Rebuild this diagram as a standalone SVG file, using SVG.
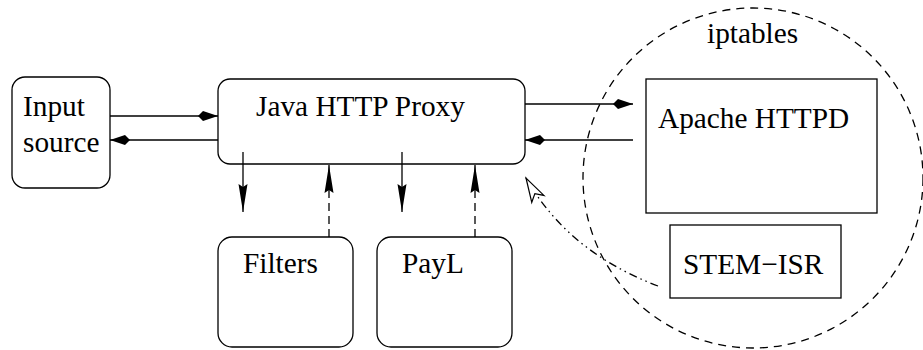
<svg xmlns="http://www.w3.org/2000/svg" width="923" height="350" viewBox="0 0 923 350">
<style>
.box{fill:#fff;stroke:#000;stroke-width:1.3}
.t{font-family:"Liberation Serif","Times New Roman",serif;font-size:29.3px;fill:#000}
.ln{stroke:#000;stroke-width:1.3;fill:none}
.dash{stroke-dasharray:8 5}
</style>
<defs>
<marker id="dia" viewBox="-22 -6 24 12" refX="0" refY="0" markerWidth="24" markerHeight="12" markerUnits="userSpaceOnUse" orient="auto">
<path d="M0,0 L-15,-5 L-20,0 L-15,5 Z" fill="#000"/>
</marker>
<marker id="arr" viewBox="-30 -6 32 12" refX="0" refY="0" markerWidth="32" markerHeight="12" markerUnits="userSpaceOnUse" orient="auto">
<path d="M0,0 L-28,-4.5 L-25,0 L-28,4.5 Z" fill="#000"/>
</marker>
<marker id="open" viewBox="-28 -9 30 18" refX="0" refY="0" markerWidth="30" markerHeight="18" markerUnits="userSpaceOnUse" orient="auto">
<path d="M0,0 L-24,-7 L-18,0 L-24,7 Z" fill="#fff" stroke="#000" stroke-width="1.2"/>
</marker>
</defs>

<g id="iptables">
<circle cx="753" cy="178" r="170" class="ln" stroke-dasharray="8 6" stroke-width="1.1"/>
<text class="t" x="707" y="43">iptables</text>
</g>

<g id="input-source">
<rect class="box" x="12" y="77" width="98" height="111" rx="13"/>
<text class="t" x="23" y="116">Input</text>
<text class="t" x="23" y="152">source</text>
</g>

<g id="java-proxy">
<rect class="box" x="218" y="79" width="307" height="85" rx="12"/>
<text class="t" x="256" y="116">Java HTTP Proxy</text>
</g>

<g id="filters">
<rect class="box" x="218" y="237" width="135" height="110" rx="14"/>
<text class="t" x="243" y="273">Filters</text>
</g>

<g id="payl">
<rect class="box" x="377" y="237" width="135" height="110" rx="14"/>
<text class="t" x="402" y="273">PayL</text>
</g>

<g id="apache">
<rect class="box" x="646" y="79" width="231" height="134"/>
<text class="t" x="658" y="128">Apache HTTPD</text>
</g>

<g id="stem-isr">
<rect class="box" x="670" y="225" width="171" height="73"/>
<text class="t" x="683" y="274">STEM−ISR</text>
</g>

<g id="connectors">
<line class="ln" x1="110" y1="116" x2="218" y2="116" marker-end="url(#dia)"/>
<line class="ln" x1="218" y1="140" x2="110" y2="140" marker-end="url(#dia)"/>
<line class="ln" x1="525" y1="104" x2="633" y2="104" marker-end="url(#dia)"/>
<line class="ln" x1="633" y1="140" x2="525" y2="140" marker-end="url(#dia)"/>
<line class="ln" x1="243" y1="152" x2="243" y2="212" marker-end="url(#arr)"/>
<line class="ln" x1="402" y1="152" x2="402" y2="212" marker-end="url(#arr)"/>
<line class="ln dash" x1="329" y1="237" x2="329" y2="165" marker-end="url(#arr)"/>
<line class="ln dash" x1="475" y1="237" x2="475" y2="165" marker-end="url(#arr)"/>
<path class="ln" d="M658,286 Q568,252 526,178" stroke-dasharray="8 4 1.5 4 1.5 4" stroke-width="1.1" marker-end="url(#open)"/>
</g>
</svg>
